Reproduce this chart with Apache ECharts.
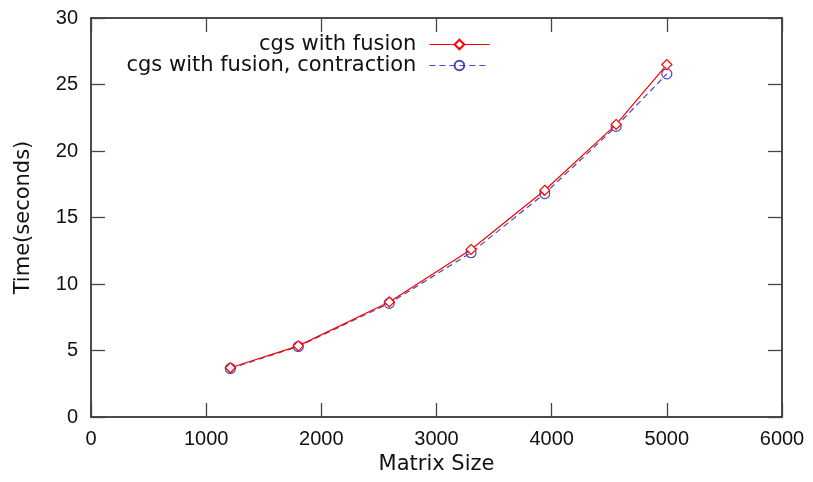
<!DOCTYPE html>
<html>
<head>
<meta charset="utf-8">
<script src="https://cdn.jsdelivr.net/npm/echarts@6/dist/echarts.min.js"></script>
<style>html,body{margin:0;padding:0;background:#fff}#c{width:813px;height:482px}</style>
</head>
<body>
<div id="c"></div>
<script>
const matrixSizes = [1210, 1800, 2590, 3300, 3940, 4560, 5000];
const fusionTimes = [3.7, 5.35, 8.65, 12.6, 17.05, 22.0, 26.5];
const contractionTimes = [3.65, 5.3, 8.55, 12.35, 16.8, 21.85, 25.8];
const seriesNames = ['cgs with fusion', 'cgs with fusion, contraction'];
const xTitle = 'Matrix Size';
const yTitle = 'Time(seconds)';

const FONT = 'Liberation Sans';
const WFONT = 'DejaVu Sans';
const red = '#ff0000';
const blue = '#4848b8';
const chart = echarts.init(document.getElementById('c'));
const tickStyle = { show: true, inside: true, length: 14, lineStyle: { color: '#444', width: 1.3 } };
const lineAx = { show: true, onZero: false, lineStyle: { color: '#111', width: 1.5 } };
const legendText = { fontSize: 21, color: '#111', fontFamily: WFONT, padding: [0, 8, 0, 0] };
function legendFor(name, color, top) {
  return { data: [name], top: top, right: 318, align: 'right', itemWidth: 60, itemHeight: 12,
    textStyle: legendText, lineStyle: { color: color, width: 1.2 } };
}
chart.setOption({
  animation: false,
  backgroundColor: '#fff',
  textStyle: { fontFamily: FONT },
  grid: { left: 91, right: 31, top: 18, bottom: 65 },
  legend: [
    legendFor(seriesNames[0], red, 29),
    legendFor(seriesNames[1], blue, 50)
  ],
  xAxis: [
    { type: 'value', min: 0, max: 6000, interval: 1000, name: xTitle, nameLocation: 'middle', nameGap: 36,
      nameTextStyle: { fontSize: 21, color: '#111', fontFamily: WFONT },
      axisLine: lineAx, axisTick: tickStyle, splitLine: { show: false },
      axisLabel: { fontSize: 20, color: '#111', margin: 12, fontFamily: FONT, formatter: v => String(v) } },
    { type: 'value', position: 'top', min: 0, max: 6000, interval: 1000,
      axisLine: lineAx, axisTick: tickStyle, splitLine: { show: false }, axisLabel: { show: false } }
  ],
  yAxis: [
    { type: 'value', min: 0, max: 30, interval: 5, name: yTitle, nameLocation: 'middle', nameGap: 57,
      nameTextStyle: { fontSize: 21, color: '#111', fontFamily: WFONT },
      axisLine: lineAx, axisTick: tickStyle, splitLine: { show: false },
      axisLabel: { fontSize: 20, color: '#111', margin: 13, fontFamily: FONT } },
    { type: 'value', position: 'right', min: 0, max: 30, interval: 5,
      axisLine: lineAx, axisTick: tickStyle, splitLine: { show: false }, axisLabel: { show: false } }
  ],
  series: [
    { name: seriesNames[0], type: 'line', data: matrixSizes.map((x, i) => [x, fusionTimes[i]]),
      symbol: 'diamond', symbolSize: 10, showAllSymbol: true,
      itemStyle: { color: '#fff', borderColor: red, borderWidth: 1.2 },
      lineStyle: { color: red, width: 1.2 }, z: 3 },
    { name: seriesNames[1], type: 'line', data: matrixSizes.map((x, i) => [x, contractionTimes[i]]),
      symbol: 'circle', symbolSize: 10, showAllSymbol: true,
      itemStyle: { color: 'rgba(255,255,255,0)', borderColor: blue, borderWidth: 1.2 },
      lineStyle: { color: blue, width: 1.2, type: [6, 4] }, z: 2 }
  ]
});
</script>
</body>
</html>
